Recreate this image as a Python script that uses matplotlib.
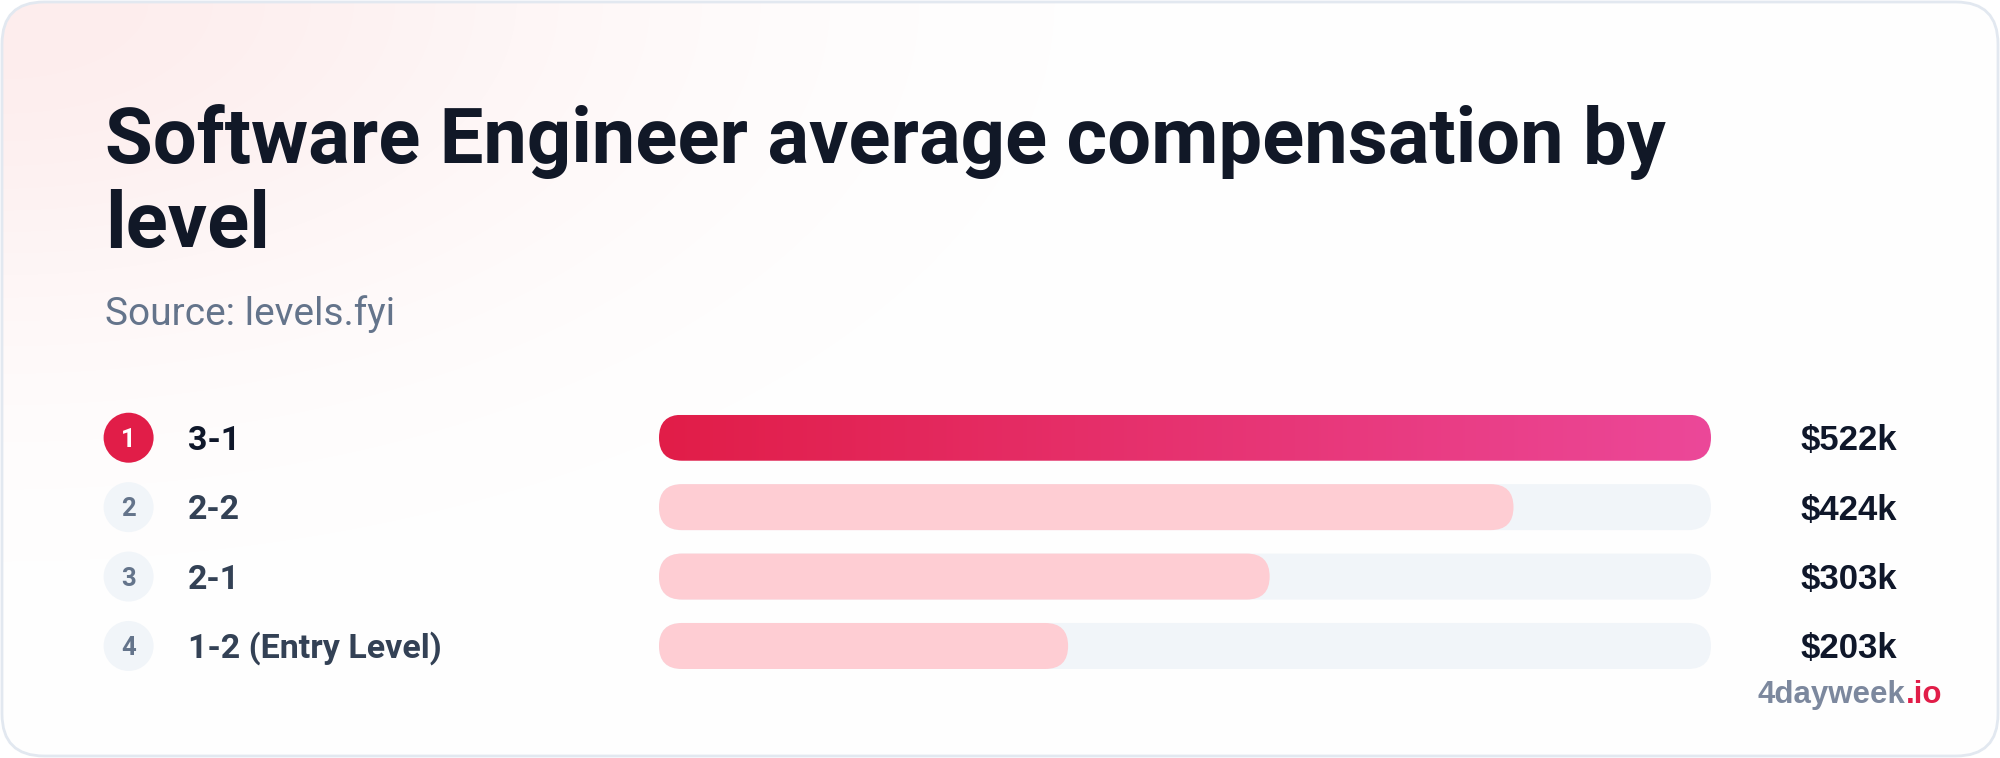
import matplotlib
matplotlib.use('Agg')
import matplotlib.pyplot as plt
import numpy as np
from matplotlib.patches import FancyBboxPatch
from matplotlib.transforms import blended_transform_factory, offset_copy

# ===== data =====
levels = ['3-1', '2-2', '2-1', '1-2 (Entry Level)']
ranks = [1, 2, 3, 4]
comp_k = [522, 424, 303, 203]
title_lines = ['Software Engineer average compensation by', 'level']
subtitle = 'Source: levels.fyi'

# ===== colours =====
DARK = '#111827'
SLATE = '#64748b'
LABEL = '#334155'
RED = '#e11d48'
PINK = '#ec4899'
LIGHT_PINK = '#fecdd3'
TRACK = '#f1f5f9'
BORDER = '#e2e8f0'

W, H = 2000, 758
fig = plt.figure(figsize=(20, 7.58), dpi=100)
fig.patch.set_facecolor('white')

# background axes in pixel units
bg = fig.add_axes([0, 0, 1, 1])
bg.set_xlim(0, W)
bg.set_ylim(H, 0)
bg.axis('off')

card_fill = FancyBboxPatch((2, 2), W - 4, H - 4, boxstyle='round,pad=0,rounding_size=42',
                           fc='white', ec='none', zorder=0)
bg.add_patch(card_fill)
# faint pink glow in the top-left corner
yy, xx = np.mgrid[0:H, 0:W]
d2 = (xx / 620.0) ** 2 + (yy / 330.0) ** 2
w = np.exp(-d2)
tint = np.array([253, 237, 237]) / 255.0
img = tint * w[..., None] + (1 - w)[..., None]
im = bg.imshow(img, extent=(0, W, H, 0), zorder=1, aspect='auto', interpolation='bilinear')
im.set_clip_path(card_fill)
bg.add_patch(FancyBboxPatch((2, 2), W - 4, H - 4, boxstyle='round,pad=0,rounding_size=42',
                            fc='none', ec=BORDER, lw=2, zorder=5))
bg.set_xlim(0, W)
bg.set_ylim(H, 0)

# title + subtitle
bg.text(105, 163, title_lines[0], fontsize=56, fontweight='bold', color=DARK,
        family='Roboto', va='baseline', ha='left', zorder=6)
bg.text(105, 247, title_lines[1], fontsize=56, fontweight='bold', color=DARK,
        family='Roboto', va='baseline', ha='left', zorder=6)
bg.text(105, 325, subtitle, fontsize=28, color=SLATE, family='Roboto',
        va='baseline', ha='left', zorder=6)

# ===== bar axes =====
row_top, row_bottom = 403.0, 680.7
ax = fig.add_axes([659 / W, 1 - row_bottom / H, 1052 / W, (row_bottom - row_top) / H])
n = len(levels)
xmax = max(comp_k)
ax.set_xlim(0, xmax)
ax.set_ylim(n - 0.5, -0.5)
ax.axis('off')

px_per_x = 1052.0 / xmax
px_per_y = (row_bottom - row_top) / n
bar_h = 46.0 / px_per_y
r_x = 23.0 / px_per_x
aspect = (bar_h / 2) / r_x
style = 'round,pad=0,rounding_size=%f' % r_x

for i, v in enumerate(comp_k):
    track = FancyBboxPatch((0, i - bar_h / 2), xmax, bar_h, boxstyle=style,
                           mutation_aspect=aspect, fc=TRACK, ec='none', zorder=1)
    ax.add_patch(track)
    if i == 0:
        bar = FancyBboxPatch((0, i - bar_h / 2), v, bar_h, boxstyle=style,
                             mutation_aspect=aspect, fc='none', ec='none', zorder=2)
        ax.add_patch(bar)
        c0 = np.array(matplotlib.colors.to_rgb(RED))
        c1 = np.array(matplotlib.colors.to_rgb(PINK))
        g = np.linspace(0, 1, 256)[None, :, None]
        grad = c0 * (1 - g) + c1 * g
        gim = ax.imshow(grad, extent=(0, v, i + bar_h / 2, i - bar_h / 2),
                        aspect='auto', zorder=2, interpolation='bilinear')
        gim.set_clip_path(bar)
    else:
        ax.add_patch(FancyBboxPatch((0, i - bar_h / 2), v, bar_h, boxstyle=style,
                                    mutation_aspect=aspect, fc=LIGHT_PINK, ec='none', zorder=2))
ax.set_xlim(0, xmax)
ax.set_ylim(n - 0.5, -0.5)

# rank circles, labels and values (x in pixels, y in row units)
trans = blended_transform_factory(bg.transData, ax.transData)
rows = np.arange(n)
circle_cols = [RED if r == 1 else TRACK for r in ranks]
ax.scatter([128.6] * n, rows, s=36 ** 2, c=circle_cols, linewidths=0,
           transform=trans, clip_on=False, zorder=3)

num_tr = offset_copy(trans, fig=fig, y=-9, units='dots')
lab_tr = offset_copy(trans, fig=fig, y=-12, units='dots')
val_tr = offset_copy(trans, fig=fig, y=-12.5, units='dots')
for i, (r, lab, v) in enumerate(zip(ranks, levels, comp_k)):
    top = (r == 1)
    ax.text(128.6, i, str(r), transform=num_tr, ha='center', va='baseline',
            fontsize=18.5, fontweight='bold', family='Roboto',
            color='white' if top else SLATE, clip_on=False, zorder=4)
    ax.text(188, i, lab, transform=lab_tr, ha='left', va='baseline',
            fontsize=24.5, fontweight='bold' if top else 'semibold', family='Roboto',
            color='#0f172a' if top else LABEL, clip_on=False, zorder=4)
    ax.text(1897, i, '$%dk' % v, transform=val_tr, ha='right', va='baseline',
            fontsize=25, fontweight='bold', family='Liberation Sans',
            color='#0f172a', clip_on=False, zorder=4)

# brand mark
io = bg.text(1942, 702.7, '.io', fontsize=22.5, fontweight='bold', family='Liberation Sans',
             color=RED, ha='right', va='baseline', zorder=6)
bg.annotate('4dayweek', xy=(0, 0), xycoords=io, fontsize=22.5, fontweight='bold',
            family='Liberation Sans', color='#7c889e', ha='right', va='bottom', zorder=6)

plt.savefig('out.png', dpi=100, facecolor='white')
plt.close()
